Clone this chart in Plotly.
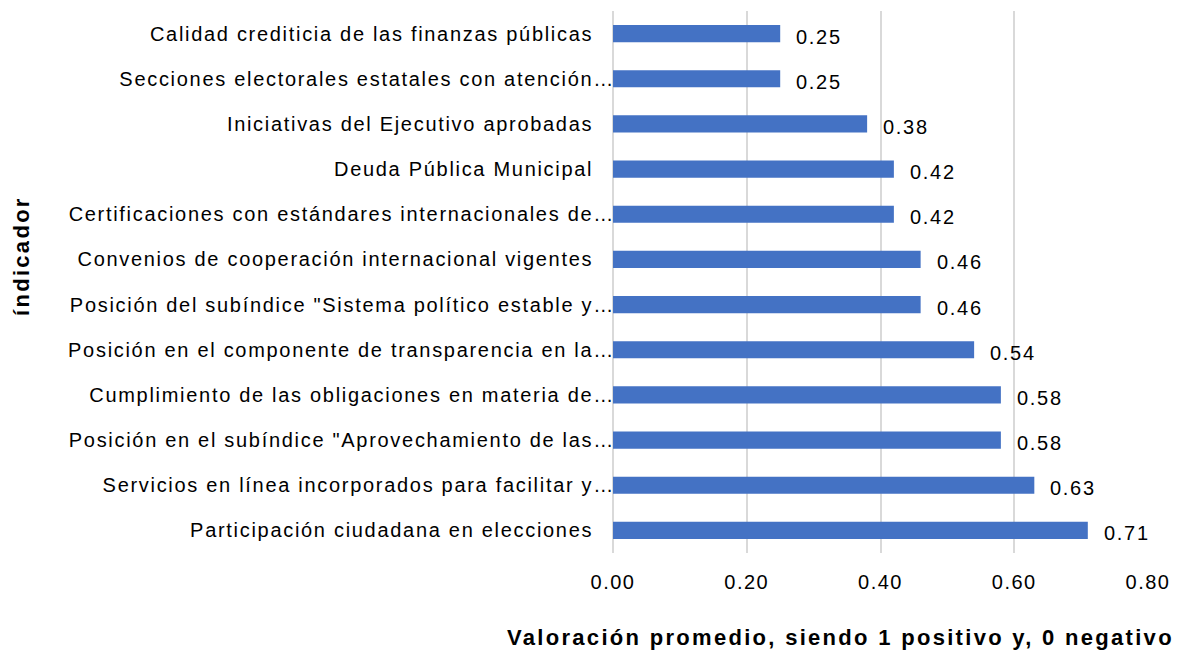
import plotly.graph_objects as go

# Indicators, listed top to bottom as they appear on the chart
categories = [
    "Calidad crediticia de las finanzas públicas",
    "Secciones electorales estatales con atención…",
    "Iniciativas del Ejecutivo aprobadas",
    "Deuda Pública Municipal",
    "Certificaciones con estándares internacionales de…",
    "Convenios de cooperación internacional vigentes",
    "Posición del subíndice \"Sistema político estable y…",
    "Posición en el componente de transparencia en la…",
    "Cumplimiento de las obligaciones en materia de…",
    "Posición en el subíndice \"Aprovechamiento de las…",
    "Servicios en línea incorporados para facilitar y…",
    "Participación ciudadana en elecciones",
]
values = [0.25, 0.25, 0.38, 0.42, 0.42, 0.46, 0.46, 0.54, 0.58, 0.58, 0.63, 0.71]
x_ticks = [0.0, 0.2, 0.4, 0.6, 0.8]

x_title = "Valoración promedio, siendo 1 positivo y, 0 negativo"
y_title = "índicador"

FONT = "Liberation Sans, Arial, sans-serif"
BAR = "#4472c4"
GRID = "#d9d9d9"
SIZE = 20
SPACING = 1.7

LEFT, RIGHT = 609, 31


def spaced(text, px):
    return f'<span style="letter-spacing:{px}px">{text}</span>'


def ylabel(text):
    pad = "" if text.endswith("…") else "\u00a0\u00a0\u00a0"
    return spaced(text + pad, SPACING)


fig = go.Figure(
    go.Bar(
        x=values,
        y=categories,
        orientation="h",
        marker=dict(color=BAR, line=dict(width=0)),
        hoverinfo="skip",
    )
)

# value labels to the right of each bar
for cat, v in zip(categories, values):
    fig.add_annotation(
        x=v, y=cat, xref="x", yref="y",
        text=spaced(f"{v:.2f}", SPACING),
        showarrow=False, xanchor="left", yanchor="middle",
        xshift=14, yshift=-3,
        font=dict(family=FONT, size=SIZE, color="#000000"),
    )

# axis titles
plot_w = 1179 - LEFT - RIGHT
fig.add_annotation(
    x=(840 - LEFT) / plot_w, y=-0.155, xref="paper", yref="paper",
    text=spaced(f"<b>{x_title}</b>", 2.3),
    showarrow=False, xanchor="center", yanchor="middle",
    font=dict(family=FONT, size=22, color="#000000"),
)
fig.add_annotation(
    x=(22 - LEFT) / plot_w, y=0.548, xref="paper", yref="paper",
    text=spaced(f"<b>{y_title}</b>", 2.3),
    showarrow=False, xanchor="center", yanchor="middle", textangle=-90,
    font=dict(family=FONT, size=22, color="#000000"),
)

fig.update_layout(
    width=1179,
    height=656,
    margin=dict(l=LEFT, r=RIGHT, t=11, b=103, autoexpand=False),
    paper_bgcolor="white",
    plot_bgcolor="white",
    bargap=0.62,
    showlegend=False,
    font=dict(family=FONT, size=SIZE, color="#000000"),
)
fig.update_xaxes(
    range=[-0.006, 0.8],
    tickvals=x_ticks,
    ticktext=[spaced(f"{t:.2f}", 1.5) for t in x_ticks],
    showgrid=True, gridcolor=GRID, gridwidth=1.5,
    zeroline=False, showline=False,
    ticks="outside", ticklen=11, tickcolor="rgba(0,0,0,0)",
    tickfont=dict(family=FONT, size=SIZE, color="#000000"),
)
fig.update_yaxes(
    autorange="reversed",
    tickvals=categories,
    ticktext=[ylabel(c) for c in categories],
    showgrid=False, zeroline=False, showline=False,
    ticks="", ticklabelstandoff=-7,
    tickfont=dict(family=FONT, size=SIZE, color="#000000"),
)

fig.write_html("out.html")
